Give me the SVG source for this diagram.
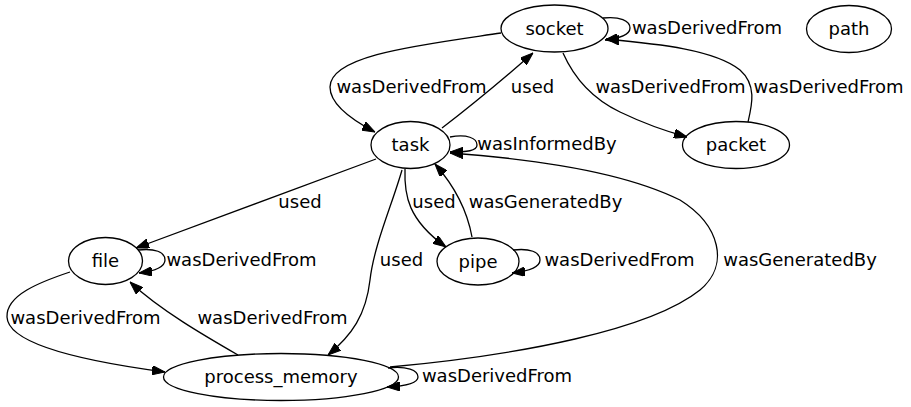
<svg xmlns="http://www.w3.org/2000/svg" width="911" height="407" viewBox="0 0 911 407">
<style>
.n ellipse{fill:none;stroke:#000;stroke-width:1.3}
text{font-family:"DejaVu Sans","Liberation Sans",sans-serif;font-size:18px;fill:#000;text-anchor:middle}
.e path{fill:none;stroke:#000;stroke-width:1.3;marker-end:url(#ah)}
</style>
<defs>
<marker id="ah" viewBox="0 0 13 9.4" refX="13" refY="4.7" markerWidth="13" markerHeight="9.4" markerUnits="userSpaceOnUse" orient="auto">
<path d="M0,0 L13,4.7 L0,9.4 z" fill="#000" stroke="#000" stroke-width="1"/>
</marker>
</defs>
<rect width="911" height="407" fill="#fff"/>
<g id="edges" class="e">
<path d="M501,33 C420,45 330,55 330,87 C330,105 352,120 375,132"/>
<path d="M442,128 Q485,95 533,53"/>
<path d="M603,18 C620,16 630,21 630,28 C630,35 620,38 605,40"/>
<path d="M563,53 C575,80 595,100 620,112 C645,124 665,131 687,137"/>
<path d="M748,122 C752,105 757,85 740,70 C715,50 660,44 606,39"/>
<path d="M450,137 C467,134 477,138 477,145 C477,151 467,152 450,152"/>
<path d="M376,159 L136,248"/>
<path d="M402,170 C392,205 374,245 370,280 C366,315 352,335 328,355"/>
<path d="M405,169 C404,195 408,220 446,247"/>
<path d="M472,237 C468,215 458,190 435,164"/>
<path d="M390,367 C520,355 650,330 700,290 C730,265 720,225 680,200 C620,170 520,158 450,153"/>
<path d="M138,250 C155,248 165,252 165,260 C165,267 155,271 139,273"/>
<path d="M513,250 C530,248 540,252 540,260 C540,267 530,271 512,273"/>
<path d="M70,272 C40,282 6,295 7,317 C8,345 90,362 165,372"/>
<path d="M238,355 C205,336 160,310 130,282"/>
<path d="M388,368 C407,366 418,370 418,377 C418,383 407,386 387,387"/>
</g>
<g id="edge-labels">
<text x="411.5" y="93">wasDerivedFrom</text>
<text x="532.5" y="93">used</text>
<text x="707" y="34">wasDerivedFrom</text>
<text x="670.5" y="93">wasDerivedFrom</text>
<text x="828.5" y="93">wasDerivedFrom</text>
<text x="547" y="150">wasInformedBy</text>
<text x="300" y="208">used</text>
<text x="434" y="208">used</text>
<text x="545.5" y="208">wasGeneratedBy</text>
<text x="401.5" y="266">used</text>
<text x="241.5" y="266">wasDerivedFrom</text>
<text x="619.5" y="266">wasDerivedFrom</text>
<text x="800" y="266">wasGeneratedBy</text>
<text x="85.5" y="324">wasDerivedFrom</text>
<text x="272.5" y="324">wasDerivedFrom</text>
<text x="497" y="382">wasDerivedFrom</text>
</g>
<g id="socket" class="n"><ellipse cx="554.5" cy="28.5" rx="53.5" ry="23.5"/><text x="554.5" y="34.5">socket</text></g>
<g id="path" class="n"><ellipse cx="849" cy="29" rx="42.5" ry="23.5"/><text x="849" y="35">path</text></g>
<g id="task" class="n"><ellipse cx="410.5" cy="145" rx="39.5" ry="23.5"/><text x="410.5" y="151">task</text></g>
<g id="packet" class="n"><ellipse cx="736" cy="145" rx="53.5" ry="23.5"/><text x="736" y="151">packet</text></g>
<g id="file" class="n"><ellipse cx="105.5" cy="261" rx="37" ry="23.5"/><text x="105.5" y="267">file</text></g>
<g id="pipe" class="n"><ellipse cx="478" cy="261.5" rx="41" ry="23.5"/><text x="478" y="267.5">pipe</text></g>
<g id="process_memory" class="n"><ellipse cx="281" cy="377" rx="117.5" ry="23.5"/><text x="281" y="383">process_memory</text></g>
</svg>
